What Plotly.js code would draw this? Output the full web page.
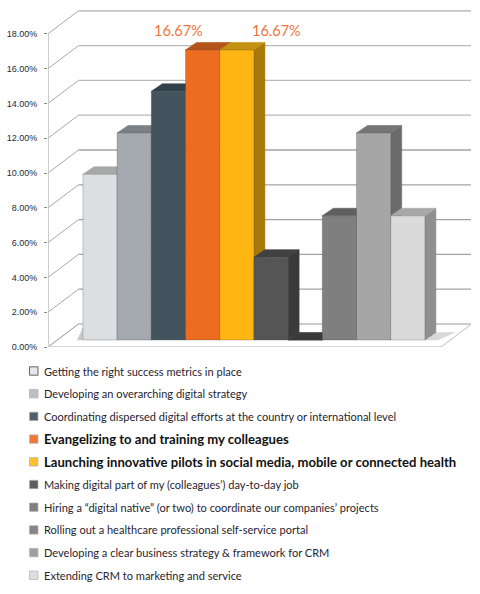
<!DOCTYPE html>
<html><head><meta charset="utf-8">
<script src="https://cdn.plot.ly/plotly-3.0.1.min.js"></script>
<style>html,body{margin:0;padding:0;background:#fff}</style></head>
<body><div id="chart" style="width:480px;height:594px"></div>
<script>
const categories = [
 "Getting the right success metrics in place",
 "Developing an overarching digital strategy",
 "Coordinating dispersed digital efforts at the country or international level",
 "Evangelizing to and training my colleagues",
 "Launching innovative pilots in social media, mobile or connected health",
 "Making digital part of my (colleagues’) day-to-day job",
 "Hiring a “digital native” (or two) to coordinate our companies’ projects",
 "Rolling out a healthcare professional self-service portal",
 "Developing a clear business strategy & framework for CRM",
 "Extending CRM to marketing and service"];
const values = [9.52,11.90,14.29,16.67,16.67,4.76,0,7.14,11.90,7.14];
const highlighted = [3,4];
const tickValues = [0,2,4,6,8,10,12,14,16,18];
const colors = ["#dcdfe2","#a3a9ae","#44545e","#ec6d1f","#ffb612","#555555","#3e3e3e","#7f7f7f","#a6a6a6","#dadada"];
const topColors = ["#a6a9a8","#7b8085","#33414b","#b5551b","#c49211","#414141","#3a3a3a","#5f5f5f","#767676","#a8a8a8"];
const sideColors = ["#a0a3a6","#7b8085","#33414b","#a9501a","#a87808","#3a3a3a","#333333","#5c5c5c","#6b6b6b","#8f8f8f"];
const swatchColors = ["#e4e6e8","#bcc0c4","#4f5f6c","#ee7a35","#fcc02a","#5c5c5c","#808080","#858585","#a0a0a0","#dedede"];

// layout geometry in pixels
const W=480,H=594,L=48,R=471,T=10,B=347;
const pxPerPct=17.4, barUnit=34.2, firstBarPx=100;
const xr=[(L-firstBarPx)/barUnit,(R-firstBarPx)/barUnit];
const wallRange=[0,(B-T)/pxPerPct];           // axis with the labels: 0 at the floor front edge
const barLift=7/pxPerPct;                     // bars stand 7px behind the floor edge
const barRange=[-barLift,wallRange[1]-barLift];
const depthX=11/barUnit, depthY=7.5/pxPerPct;  // bar depth
const wallX=30.5/barUnit, wallY=23/pxPerPct;   // wall depth
const xL=xr[0];
const xFront=(441-firstBarPx)/barUnit;

const path=pts=>"M"+pts.map(p=>p[0]+","+p[1]).join("L")+"Z";
const line=(x0,y0,x1,y1,color,width)=>({type:"line",xref:"x",yref:"y2",x0,y0,x1,y1,layer:"below",line:{color,width}});
const poly=(pts,color,yref)=>({type:"path",xref:"x",yref:yref||"y",layer:"below",path:path(pts),fillcolor:color,line:{color,width:0.6}});

const shapes=[];
// floor
shapes.push({type:"path",xref:"x",yref:"y2",layer:"below",path:path([[xL,0],[xFront,0],[xFront+wallX,wallY],[xL+wallX,wallY]]),fillcolor:"#ffffff",line:{color:"#bdbdbd",width:1}});
// walls
tickValues.forEach((t,i)=>{
  const c=t>=12?"#b9b9b9":"#a3a3a3";
  shapes.push(line(xL,t,xL+wallX,t+wallY,"#a8a8a8",1));
  if(t>0) shapes.push(line(xL+wallX,t+wallY,xr[1],t+wallY,t===18?"#c4c4c4":c,t===18?2:1.3));
});
shapes.push(line(xL,0,xL,18,"#c0c0c0",1.6));
shapes.push(line(xL,0,xFront,0,"#d4d4d4",2.2));
shapes.push(line(xL+wallX,wallY,xr[1],wallY,"#c4c4c4",1.6));
// soft contact shadows on the floor
shapes.push(poly([[-0.5,0],[-0.5,depthY*1.6],[-0.66,0]],"#c9c9c9"));
shapes.push(poly([[9.5,0],[9.5+depthX,depthY],[9.5+depthX+0.55,depthY],[9.5+0.38,0]],"#d8d8d8"));
// bar top and side faces, painted left to right; the fronts are the bar traces
values.forEach((v,i)=>{
  const a=i-0.5,b=i+0.5;
  shapes.push(poly([[b,0],[b+depthX,depthY],[b+depthX,v+depthY],[b,v]],sideColors[i]));
  shapes.push(poly([[a,v],[b,v],[b+depthX,v+depthY],[a+depthX,v+depthY]],topColors[i]));
});

const px=x=>(x-L)/(R-L), py=y=>(B-y)/(B-T);
const legendX=43, swatchX0=29.5, swatchX1=38, rowY0=371, rowStep=22.7;
const annotations=[];
categories.forEach((c,i)=>{
  const strong=highlighted.includes(i), y=rowY0+i*rowStep;
  annotations.push({xref:"paper",yref:"paper",x:px(legendX),y:py(y),xanchor:"left",yanchor:"middle",showarrow:false,
    text:strong?"<b>"+c+"</b>":c,align:"left",borderpad:0,
    font:{family:"Lato, sans-serif",size:strong?13.1:11.05,color:strong?"#111111":"#1f2430"}});
  shapes.push({type:"rect",xref:"paper",yref:"paper",x0:px(swatchX0),x1:px(swatchX1),y0:py(y+4.2),y1:py(y-4.2),layer:"above",
    fillcolor:swatchColors[i],line:{color:i===0?"#666666":"#b0b0b0",width:i===0?1:0.7}});
});
const labelPx=[178,276];
highlighted.forEach((k,j)=>annotations.push({xref:"paper",yref:"paper",x:px(labelPx[j]),y:py(30),showarrow:false,xanchor:"center",yanchor:"middle",
  text:values[k].toFixed(2)+"%",font:{family:"Lato, sans-serif",size:14.5,color:"#f0743a"}}));

const data=values.map((v,i)=>({type:"bar",x:[i],y:[v],width:[1],name:categories[i],showlegend:false,
  xaxis:"x",yaxis:"y",marker:{color:colors[i],line:{color:"rgba(70,70,70,0.35)",width:0.8}},
  hovertemplate:"%{y:.2f}%<extra>"+categories[i]+"</extra>"}));
// invisible trace that activates the labelled value axis
data.push({type:"scatter",mode:"markers",x:[0],y:[0],xaxis:"x",yaxis:"y2",marker:{opacity:0},showlegend:false,hoverinfo:"skip"});

Plotly.newPlot("chart",data,{
  width:W,height:H,showlegend:false,barmode:"overlay",
  margin:{l:L,r:W-R,t:T,b:H-B,pad:0},
  paper_bgcolor:"#fff",plot_bgcolor:"rgba(0,0,0,0)",
  xaxis:{range:xr,visible:false,fixedrange:true},
  yaxis:{range:barRange,visible:false,fixedrange:true},
  yaxis2:{range:wallRange,overlaying:"y",side:"left",anchor:"x",showgrid:false,zeroline:false,showline:false,fixedrange:true,
    tickmode:"array",tickvals:tickValues,ticktext:tickValues.map(t=>t.toFixed(2)+"%"),
    ticks:"outside",ticklen:3,tickcolor:"#8c8c8c",ticklabelstandoff:5,
    tickfont:{family:"Liberation Sans, sans-serif",size:9,color:"#1b2b3b"}},
  shapes,annotations
},{displayModeBar:false,staticPlot:false});
</script></body></html>
